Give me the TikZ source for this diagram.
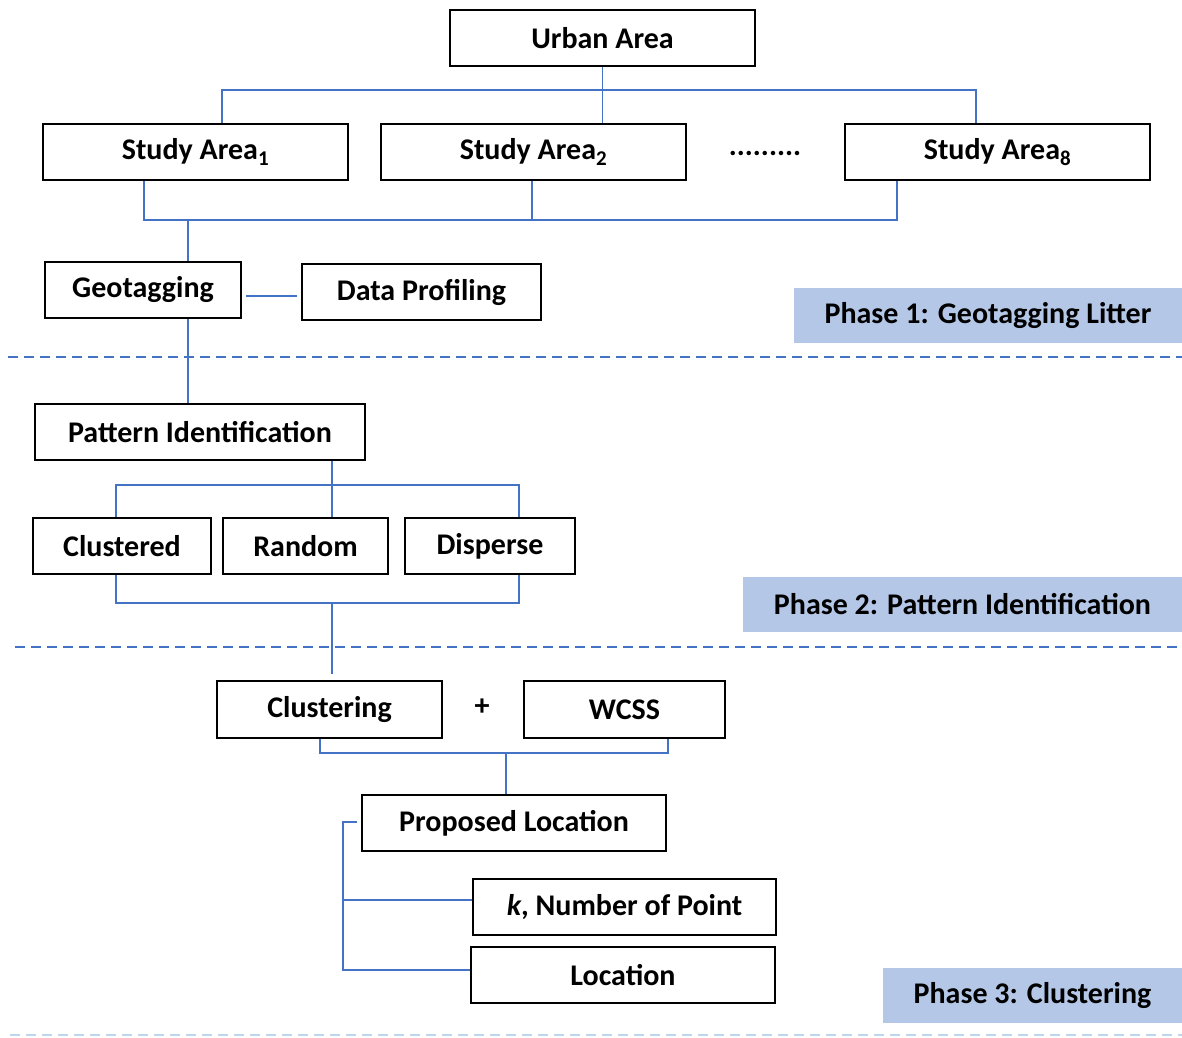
\documentclass[tikz,border=0pt]{standalone}
\usepackage{fontspec}
\setmainfont{Carlito}
\usetikzlibrary{calc}
\definecolor{connblue}{HTML}{4472C4}
\definecolor{phasefill}{HTML}{B4C7E7}
\definecolor{lightdash}{HTML}{BDD7EE}
\begin{document}
\begin{tikzpicture}[x=1pt,y=-1pt,
  box/.style={draw=black, line width=1.6pt, inner sep=0pt, font=\fontsize{30}{34}\selectfont\bfseries},
  phase/.style={fill=phasefill, draw=none, inner sep=0pt, font=\fontsize{30}{34}\selectfont\bfseries},
  conn/.style={draw=connblue, line width=1.7pt},
  sep/.style={draw=connblue, line width=1.7pt, dash pattern=on 10pt off 6pt},
  lbl/.style={inner sep=0pt, font=\fontsize{30}{34}\selectfont\bfseries}]
\useasboundingbox (0,0) rectangle (1182,1037);
% Phase 1
\node[box, minimum width=305, minimum height=56] (ua) at (602.5,38) {Urban Area};
\node[box, minimum width=305, minimum height=56] (sa1) at (195.5,152) {Study Area\textsubscript{1}};
\node[box, minimum width=305, minimum height=56] (sa2) at (533.5,152) {Study Area\textsubscript{2}};
\node[lbl] (dots) at (765,153) {.........};
\node[box, minimum width=305, minimum height=56] (sa8) at (997.5,152) {Study Area\textsubscript{8}};
\coordinate (t1) at (222,90);
\coordinate (t8) at (976,90);
\draw[conn] (ua.south) -- (sa2.north -| ua.south);
\draw[conn] (sa1.north -| t1) -- (t1) -- (t8) -- (sa8.north -| t8);
\coordinate (b1) at (144,220);
\coordinate (b2) at (532,220);
\coordinate (b8) at (897,220);
\draw[conn] (sa1.south -| b1) -- (b1) -- (b8) -- (sa8.south -| b8);
\draw[conn] (sa2.south -| b2) -- (b2);
\node[box, minimum width=196, minimum height=56] (geo) at (143,290) {Geotagging};
\node[box, minimum width=239, minimum height=56] (dp) at (421.5,292) {Data Profiling};
\coordinate (g) at (188,220);
\draw[conn] (g) -- (geo.north -| g);
\draw[conn] ($(geo.east)+(4,6)$) -- ($(dp.west)+(-4,4)$);
\node[phase, minimum width=388, minimum height=55] (ph1) at (988,315.5) {Phase 1: Geotagging Litter};
\draw[sep] (8,357) -- (1182,357);
% Phase 2
\node[box, minimum width=330, minimum height=56] (pi) at (200,432) {Pattern Identification};
\draw[conn] (geo.south -| g) -- (pi.north -| g);
\node[box, minimum width=178, minimum height=56] (cl) at (122,546) {Clustered};
\node[box, minimum width=165, minimum height=56] (rd) at (305.5,546) {Random};
\node[box, minimum width=170, minimum height=56] (dsp) at (490,546) {Disperse};
\coordinate (p1) at (116,485);
\coordinate (p2) at (332,485);
\coordinate (p3) at (519,485);
\draw[conn] (pi.south -| p2) -- (p2);
\draw[conn] (cl.north -| p1) -- (p1) -- (p3) -- (dsp.north -| p3);
\draw[conn] (p2) -- (rd.north -| p2);
\coordinate (q1) at (116,603);
\coordinate (q2) at (332,603);
\coordinate (q3) at (519,603);
\draw[conn] (cl.south -| q1) -- (q1) -- (q3) -- (dsp.south -| q3);
\node[phase, minimum width=439, minimum height=55] (ph2) at (962.5,604.5) {Phase 2: Pattern Identification};
\draw[sep] (15,647) -- (1182,647);
% Phase 3
\node[box, minimum width=225, minimum height=57] (clu) at (329.5,709.5) {Clustering};
\node[lbl] (plus) at (482,707) {+};
\node[box, minimum width=201, minimum height=57] (wcss) at (624.5,709.5) {WCSS};
\draw[conn] (q2) -- ($(clu.north -| q2)+(0,-6)$);
\coordinate (r1) at (320,753);
\coordinate (r2) at (506,753);
\coordinate (r3) at (668,753);
\draw[conn] (clu.south -| r1) -- (r1) -- (r3) -- (wcss.south -| r3);
\node[box, minimum width=304, minimum height=56] (pl) at (514,823) {Proposed Location};
\draw[conn] (r2) -- (pl.north -| r2);
\node[box, minimum width=303, minimum height=56] (kn) at (624.5,907) {\textit{k}, Number of Point};
\node[box, minimum width=304, minimum height=56] (loc) at (623,975) {Location};
\coordinate (s0) at (343,822);
\coordinate (s1) at (343,900);
\coordinate (s2) at (343,970);
\draw[conn] ($(pl.west)+(-4,-1)$) -- (s0) -- (s2) -- (loc.west |- s2);
\draw[conn] (s1) -- (kn.west |- s1);
\node[phase, minimum width=299, minimum height=55] (ph3) at (1032.5,995.5) {Phase 3: Clustering};
\draw[draw=lightdash, line width=1.5pt, dash pattern=on 10pt off 6pt] (10,1035) -- (1182,1035);
\end{tikzpicture}
\end{document}
